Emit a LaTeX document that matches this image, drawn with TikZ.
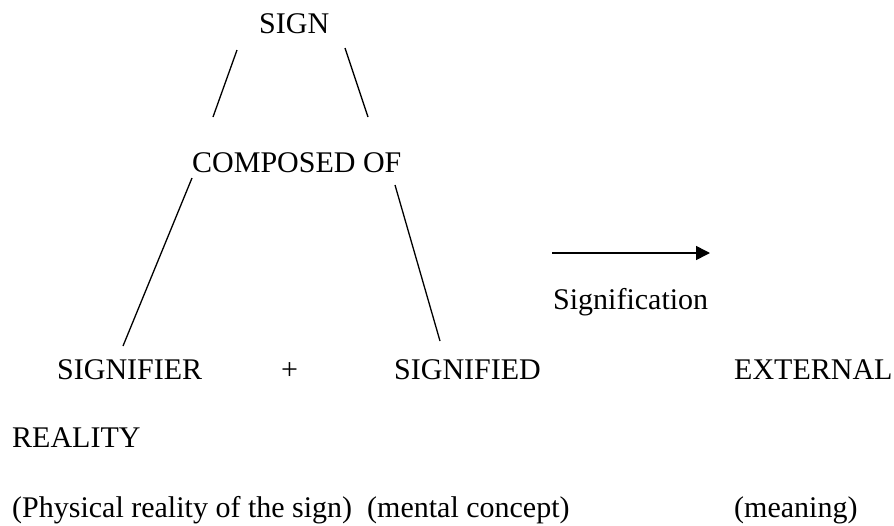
\documentclass[tikz,border=0pt]{standalone}
\usepackage{fontspec}
\setmainfont{Liberation Serif}
\usetikzlibrary{arrows.meta}
\begin{document}
\begin{tikzpicture}[x=1pt,y=-1pt,
  lbl/.style={anchor=base west,inner sep=0pt,font=\fontsize{30}{36}\selectfont},
  conn/.style={line width=1.3pt},
  arr/.style={line width=1.6pt,-{Triangle[length=14pt,width=14pt]}}]
\useasboundingbox (0,0) rectangle (894,525);
\node[lbl] (sign) at (259,33) {SIGN};
\node[lbl] (comp) at (192,172) {COMPOSED OF};
\node[lbl] (sigr) at (57,379) {SIGNIFIER};
\node[lbl] (plus) at (281,379) {+};
\node[lbl] (sigd) at (394,379) {SIGNIFIED};
\node[lbl] (ext) at (734,379) {EXTERNAL};
\node[lbl] (sgf) at (553,309) {Signification};
\node[lbl] (real) at (12,447) {REALITY};
\node[lbl] (phys) at (12,517) {(Physical reality of the sign)};
\node[lbl] (ment) at (367,517) {(mental concept)};
\node[lbl] (mean) at (734,517) {(meaning)};
\coordinate (a1) at (237,50);  \coordinate (a2) at (213,117);
\coordinate (b1) at (345,48);  \coordinate (b2) at (368,117);
\coordinate (c1) at (192,178); \coordinate (c2) at (123,346);
\coordinate (d1) at (395,185); \coordinate (d2) at (440,341);
\coordinate (e1) at (552,253); \coordinate (e2) at (710,253);
\draw[conn] (a1) -- (a2);
\draw[conn] (b1) -- (b2);
\draw[conn] (c1) -- (c2);
\draw[conn] (d1) -- (d2);
\draw[arr] (e1) -- (e2);
\end{tikzpicture}
\end{document}
